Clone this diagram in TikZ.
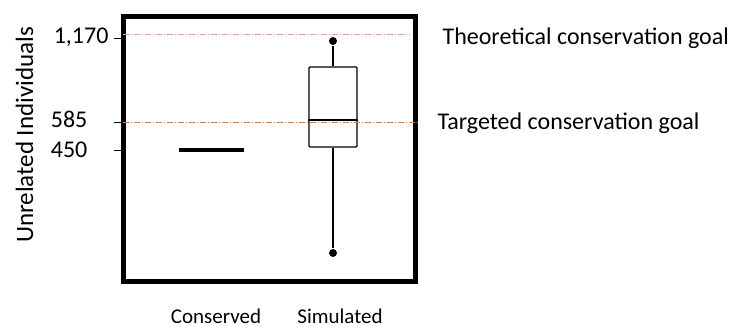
\documentclass[tikz,border=0pt]{standalone}
\usepackage{fontspec}
\setmainfont{Carlito}
\usetikzlibrary{positioning}

\definecolor{goalpink}{RGB}{250,150,150}
\definecolor{goalorange}{RGB}{245,120,40}

\begin{document}
\begin{tikzpicture}[x=1pt,y=-1pt,font=\fontsize{24}{28}\selectfont,
		line width=1.2pt]
		\tikzstyle{every node}=[inner sep=0pt]
		\tikzstyle{tick}=[line width=1pt]
		\tikzstyle{dot}=[circle,fill=black,minimum size=8pt]
		\tikzstyle{goal}=[line width=1pt,dash pattern=on 6pt off 2pt on 1pt off 2pt]
		\tikzstyle{cat}=[anchor=base,font=\fontsize{21}{24}\selectfont]
		
		\useasboundingbox (0,0) rectangle (740,327);
		
		% frame
		\draw[line width=5pt] (123.5,16.5) rectangle (415.5,281.5);
		
		% axis
		\coordinate (t1170) at (123,38);
		\coordinate (t585)  at (123,122);
		\coordinate (t450)  at (123,150);
		\node[anchor=base east] (l1170) at (109,43)  {1,170};
		\node[anchor=base east] (l585)  at (88,127)  {585};
		\node[anchor=base east] (l450)  at (88,157)  {450};
		\draw[tick] (t1170) -- ++(-9,0);
		\draw[tick] (t585)  -- ++(-9,0);
		\draw[tick] (t450)  -- ++(-9,0);
		\node[rotate=90,anchor=base,font=\fontsize{25}{28}\selectfont] (ylab) at (33,135) {Unrelated Individuals};
		
		% conserved
		\node[fill=black,minimum width=65pt,minimum height=4pt] (cons) at (211.5,150) {};
		
		% simulated
		\node[draw,rounded corners=1pt,minimum width=48pt,minimum height=80pt] (box) at (333,107) {};
		\node[dot] (max) at (333,41)  {};
		\node[dot] (min) at (333,253) {};
		\draw (box.north) -- (max);
		\draw (box.south) -- (min);
		\draw (box.west |- 0,120) -- (box.east |- 0,120);
		
		% goals
		\coordinate (theo)  at (410,34);
		\coordinate (targ)  at (420,122);
		\draw[goal,goalpink]   (123,34)  -- (theo);
		\draw[goal,goalorange] (123,122) -- (targ);
		\node[anchor=base west] (ltheo) at (442,44)  {Theoretical conservation goal};
		\node[anchor=base west] (ltarg) at (437,129) {Targeted conservation goal};
		
		\node[cat] (lcons) at (216,323) {Conserved};
		\node[cat] (lsim)  at (340,323) {Simulated};
\end{tikzpicture}
\end{document}
